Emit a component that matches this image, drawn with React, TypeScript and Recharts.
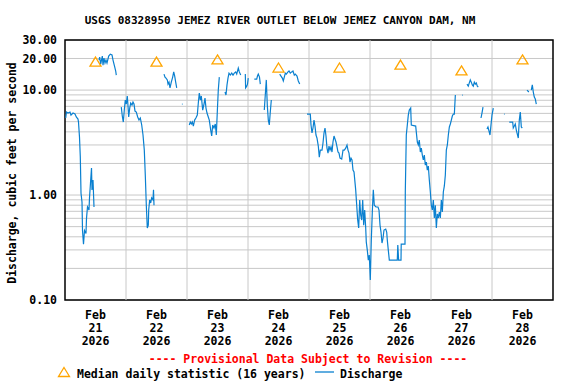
import React from 'react'
import {
  ComposedChart,
  Line,
  XAxis,
  YAxis,
  CartesianGrid,
  ReferenceLine,
  ReferenceArea,
} from 'recharts'

const FONT = '"DejaVu Sans Mono", "Liberation Mono", monospace'

const title = 'USGS 08328950 JEMEZ RIVER OUTLET BELOW JEMEZ CANYON DAM, NM'
const yTitle = 'Discharge, cubic feet per second'
const provisional = '---- Provisional Data Subject to Revision ----'
const medianLabel = 'Median daily statistic (16 years)'
const dischargeLabel = 'Discharge'

const dayLabels = ['21', '22', '23', '24', '25', '26', '27', '28']
const monthLabel = 'Feb'
const yearLabel = '2026'

// median daily statistic, one per day (cfs)
const medianCfs = [18.7, 18.7, 19.6, 16.4, 16.4, 17.5, 15.4, 19.6]

const yTicks = [
  0.1, 0.2, 0.3, 0.4, 0.5, 0.6, 0.7, 0.8, 0.9,
  1, 2, 3, 4, 5, 6, 7, 8, 9,
  10, 20, 30,
]
const yLabelled = [0.1, 1, 10, 20, 30]

// [hour of day, discharge cfs]; null marks a gap in the record
type Row = [number, number | null]

const feb21: Row[] = [
  [0.28, 5.42], [0.59, 6.18], [1.18, 6.04], [1.97, 6.18], [2.36, 5.78], [3.15, 6.04],
  [3.93, 5.91], [4.45, 5.54], [5.11, 5.3], [5.31, 4.96], [5.7, 3.57], [6.02, 2.3],
  [6.3, 1.04], [6.69, 0.86], [6.89, 0.46], [7.28, 0.34], [7.67, 0.46], [8.26, 0.43],
  [8.46, 0.6], [8.85, 0.77], [9.44, 0.72], [9.64, 0.94], [10.03, 1.3], [10.43, 1.81],
  [10.62, 1.12], [11.02, 1.39], [11.41, 0.77], [12.4, null],
  [13.38, 19.3], [13.65, 20.6], [14.05, 17.7], [14.68, 21.1], [14.95, 17.3], [15.34, 20.2],
  [15.74, 18.1], [16.13, 19.3], [16.52, 18.1], [17.19, 21.1], [17.82, 22.0], [18.49, 21.6],
  [18.89, 19.3], [19.55, 16.6], [19.95, 15.2], [20.18, 13.9], [21, null],
  [22.15, 6.89], [22.54, 5.66], [22.94, 4.96], [23.33, 6.45], [23.72, 8.04],
]

const feb22: Row[] = [
  [0.12, 7.36], [0.51, 8.78], [0.79, 7.05], [1.06, 5.54], [1.46, 6.74], [1.85, 7.53],
  [2.36, 7.2], [2.75, 7.69], [3.15, 7.36], [3.54, 6.31], [4.05, 6.18], [4.6, 5.54],
  [5.11, 5.18], [5.63, 5.42], [6.18, 4.65], [6.69, 3.73], [7.2, 2.68], [7.59, 1.55],
  [7.99, 0.8], [8.38, 0.485], [8.77, 0.517], [8.93, 0.72], [9.32, 0.9], [9.72, 0.84],
  [10.11, 0.94], [10.62, 0.9], [10.82, 1.12], [11.02, 0.8], [12, null],
  [14.95, 14.2], [15.35, 13.3], [15.74, 13.0], [16.25, 12.5], [16.53, 11.4], [16.92, 11.9],
  [17.31, 10.5], [17.82, 11.9], [18.37, 13.3], [18.77, 14.9], [19.16, 13.6], [19.55, 11.9],
  [19.95, 10.5], [21, null],
  [22.0, 7.36], [22.25, 7.36], [23, null],
]

const feb23: Row[] = [
  [0.9, 4.65], [1.3, 4.96], [1.7, 4.75], [2.1, 4.96], [2.5, 4.54], [3.0, 5.18],
  [3.5, 5.42], [4.05, 5.78], [4.45, 7.53], [4.84, 9.37], [5.23, 8.04], [5.63, 8.78],
  [6.18, 6.45], [6.69, 7.36], [7.08, 8.4], [7.47, 6.74], [7.87, 6.04], [8.38, 5.54],
  [8.77, 5.18], [9.33, 4.16], [9.72, 3.65], [10.11, 4.65], [10.62, 4.35], [11.13, 4.75],
  [11.53, 3.73], [11.92, 6.18], [12.31, 10.0], [12.71, 13.3], [13.8, null],
  [14.95, 9.58], [15.34, 8.97], [15.74, 11.2], [16.13, 13.0], [16.52, 14.5], [17.04, 13.9],
  [17.59, 14.5], [18.1, 13.9], [18.61, 14.5], [19.16, 14.9], [19.56, 14.2], [20.18, 16.2],
  [20.58, 14.9], [21.13, 13.9], [22, null],
  [22.94, 14.2], [23.06, 10.5], [23.5, 10.9], [23.8, 11.4],
]

const feb24: Row[] = [
  [0.1, 13.0], [1.3, null],
  [2.48, 12.7], [3.42, 12.7], [3.73, 13.6], [4.05, 14.2], [4.52, 13.3], [4.84, 11.4], [5.6, null],
  [6.41, 6.45], [6.8, 8.97], [7.2, 12.5], [7.59, 7.2], [7.99, 5.18], [8.38, 4.65],
  [8.77, 6.18], [9.17, 8.04], [10.8, null],
  [12.47, 14.2], [12.98, 13.6], [13.5, 13.0], [13.89, 12.2], [14.28, 13.3], [14.68, 14.5],
  [15.07, 14.2], [15.74, 14.9], [16.13, 15.2], [16.64, 14.5], [17.2, 14.9], [17.7, 15.2],
  [18.22, 13.9], [18.61, 14.2], [19.28, 13.6], [19.79, 12.2], [20.34, 11.4], [21.5, null],
  [23.21, 5.91],
]

const feb25: Row[] = [
  [0.51, 5.91], [0.79, 4.65], [1.18, 3.9], [1.57, 4.35], [1.97, 5.18], [2.36, 4.54],
  [2.75, 3.73], [3.15, 3.49], [3.66, 2.93], [4.05, 2.3], [4.45, 2.68], [5.12, 2.68],
  [5.51, 3.13], [5.9, 3.9], [6.3, 4.35], [6.69, 3.65], [7.08, 2.8], [7.48, 2.51],
  [7.87, 2.93], [8.26, 2.68], [8.66, 2.87], [9.05, 2.57], [9.44, 3.2], [9.84, 3.65],
  [10.23, 3.42], [10.62, 3.2], [11.02, 2.87], [11.41, 2.57], [11.8, 2.51], [12.2, 2.25],
  [12.87, 2.2], [13.38, 2.68], [13.89, 2.68], [14.44, 2.8], [14.95, 3.0], [15.34, 2.68],
  [15.74, 2.51], [16.13, 2.06], [16.53, 2.25], [16.92, 2.16], [17.31, 1.73], [17.71, 1.66],
  [18.37, 1.12], [18.77, 0.8], [19.16, 0.578], [19.55, 0.485], [19.95, 0.896], [20.34, 0.645],
  [20.73, 0.578], [21.13, 0.896], [21.52, 0.517], [21.91, 0.72], [22.31, 0.485], [22.54, 0.356],
  [22.94, 0.299], [23.33, 0.24], [23.72, 0.268],
]

const feb26: Row[] = [
  [0.12, 0.155], [0.51, 0.372], [0.91, 0.689], [1.3, 1.12], [1.69, 0.8], [2.36, 0.769],
  [3.15, 0.769], [3.54, 0.72], [3.94, 0.517], [4.33, 0.444], [4.72, 0.349], [5.12, 0.388],
  [5.51, 0.464], [6.18, 0.474], [6.57, 0.444], [6.81, 0.372], [7.2, 0.299], [7.6, 0.24],
  [10.74, 0.24], [10.94, 0.334], [11.26, 0.24], [12.2, 0.24], [12.28, 0.341], [13.77, 0.341],
  [13.89, 1.07], [14.28, 3.73], [14.68, 4.65], [15.07, 5.78], [15.46, 6.45], [16.01, 6.74],
  [16.25, 4.65], [17.98, 4.54], [18.22, 3.98], [18.62, 3.2], [19.01, 3.0], [19.4, 3.34],
  [19.8, 2.57], [20.19, 2.8], [20.59, 2.4], [20.98, 2.16], [21.37, 2.4], [21.77, 1.93],
  [22.16, 2.06], [22.55, 1.73], [22.95, 1.89], [23.34, 1.39], [23.74, 1.07],
]

const feb27: Row[] = [
  [0.13, 0.8], [0.52, 0.72], [0.92, 0.896], [1.31, 0.604], [1.7, 0.8], [2.1, 0.485],
  [2.49, 0.66], [2.88, 0.604], [3.28, 0.689], [3.67, 0.604], [4.07, 0.896], [4.46, 0.689],
  [4.85, 1.07], [5.25, 1.22], [5.64, 1.55], [6.03, 2.68], [6.43, 3.0], [6.82, 3.73],
  [7.22, 4.45], [7.61, 4.75], [8.0, 5.18], [8.39, 5.66], [8.79, 5.91], [9.18, 5.91],
  [9.58, 8.97], [10.5, null],
  [12.2, 8.97], [12.45, 8.97], [13.3, null],
  [14.16, 11.4], [14.67, 10.9], [15.07, 11.7], [15.46, 12.5], [15.85, 11.9], [16.25, 11.2],
  [16.64, 10.9], [17.04, 11.9], [17.43, 11.4], [17.82, 11.7], [18.22, 10.9], [18.61, 10.7],
  [19.1, null],
  [19.67, 5.42], [20.06, 6.04], [20.46, 6.89], [21.2, null],
  [22.03, 4.25], [22.42, 4.45], [22.82, 4.07], [23.21, 3.73], [23.6, 4.65],
]

const feb28: Row[] = [
  [0.0, 5.78], [0.51, 6.74], [2.0, null],
  [4.7, 5.91], [4.95, 5.91], [5.8, null],
  [6.8, 4.96], [8.14, 4.96], [8.37, 4.35], [8.77, 4.54], [9.16, 4.75], [9.56, 4.16],
  [9.95, 3.81], [10.34, 3.49], [10.74, 5.18], [11.13, 6.18], [11.53, 4.45], [11.92, 4.35],
  [12.8, null],
  [13.77, 10.0], [14.5, 9.58], [14.9, null],
  [15.46, 10.0], [15.86, 11.2], [16.25, 9.58], [16.64, 8.59], [17.04, 8.22], [17.43, 7.36],
]

const days = [feb21, feb22, feb23, feb24, feb25, feb26, feb27, feb28]

const dischargeData = days.flatMap((rows, d) =>
  rows.map(([h, q]) => ({ t: d * 24 + h, q })),
)
const medianData = medianCfs.map((m, d) => ({ t: d * 24 + 12, m }))
const dayTicks = dayLabels.map((_, i) => i * 24 + 12)
const dayBounds = dayLabels.slice(1).map((_, i) => (i + 1) * 24)

const ORANGE = '#ffa500'
const BLUE = '#0a80d0'

function Triangle(props: any) {
  const { cx, cy } = props
  if (cx == null || cy == null) return null
  return (
    <path
      d={`M${cx},${cy - 4.5} L${cx + 5.5},${cy + 4.5} L${cx - 5.5},${cy + 4.5} Z`}
      fill="none"
      stroke={ORANGE}
      strokeWidth={1.3}
    />
  )
}

function DayTick(props: any) {
  const { x, y, payload } = props
  const i = Math.round((payload.value - 12) / 24)
  return (
    <text
      x={x}
      y={y}
      textAnchor="middle"
      fontFamily={FONT}
      fontSize={11.5}
      fontWeight="bold"
      fill="#000"
    >
      <tspan x={x} dy={19}>{monthLabel}</tspan>
      <tspan x={x} dy={13}>{dayLabels[i]}</tspan>
      <tspan x={x} dy={13}>{yearLabel}</tspan>
    </text>
  )
}

const textStyle: React.CSSProperties = {
  position: 'absolute',
  fontFamily: FONT,
  fontWeight: 'bold',
  fontSize: 11.5,
  whiteSpace: 'nowrap',
  lineHeight: 1,
}

export default function App() {
  return (
    <div style={{ position: 'absolute', left: 0, top: 0, width: 576, height: 384, background: '#fff' }}>
      <ComposedChart
        width={576}
        height={384}
        margin={{ top: 40, right: 23, bottom: 44, left: 0 }}
      >
        <CartesianGrid vertical={false} stroke="#c8c8c8" />
        {dayBounds.map((b) => (
          <ReferenceLine key={b} x={b} stroke="#c8c8c8" />
        ))}
        <XAxis
          dataKey="t"
          type="number"
          domain={[0, 192]}
          ticks={dayTicks}
          interval={0}
          tick={<DayTick />}
          tickLine={false}
          axisLine={false}
          tickSize={0}
          tickMargin={0}
          height={40}
          allowDataOverflow
        />
        <YAxis
          scale="log"
          type="number"
          domain={[0.1, 30]}
          ticks={yTicks}
          interval={0}
          allowDataOverflow
          width={65}
          tickLine={false}
          axisLine={false}
          tickSize={0}
          tickMargin={8}
          tickFormatter={(v: number) => (yLabelled.includes(v) ? v.toFixed(2) : '')}
          tick={{ fill: '#000', fontSize: 11.5, fontFamily: FONT, fontWeight: 'bold' }}
        />
        <Line
          data={dischargeData}
          dataKey="q"
          type="linear"
          stroke={BLUE}
          strokeWidth={1.2}
          dot={false}
          activeDot={false}
          connectNulls={false}
          isAnimationActive={false}
        />
        <Line
          data={medianData}
          dataKey="m"
          stroke="none"
          dot={<Triangle />}
          activeDot={false}
          isAnimationActive={false}
        />
        <ReferenceArea
          x1={0}
          x2={192}
          y1={0.1}
          y2={30}
          fill="none"
          fillOpacity={0}
          stroke="#000"
          strokeWidth={1.5}
          ifOverflow="visible"
        />
      </ComposedChart>

      <div style={{ ...textStyle, fontSize: 11, left: 280, top: 20, transform: 'translate(-50%, -50%)' }}>
        {title}
      </div>
      <div
        style={{
          ...textStyle,
          left: 13,
          top: 173,
          transform: 'translate(-50%, -50%) rotate(-90deg)',
        }}
      >
        {yTitle}
      </div>
      <div style={{ ...textStyle, color: '#ff0000', left: 308, top: 359.5, transform: 'translate(-50%, -50%)' }}>
        {provisional}
      </div>
      <svg style={{ position: 'absolute', left: 57, top: 366 }} width={14} height={12}>
        <path d="M7,1.5 L12.5,10.5 L1.5,10.5 Z" fill="none" stroke={ORANGE} strokeWidth={1.3} />
      </svg>
      <div style={{ ...textStyle, left: 77, top: 374.5, transform: 'translateY(-50%)' }}>
        {medianLabel}
      </div>
      <svg style={{ position: 'absolute', left: 315, top: 370 }} width={20} height={4}>
        <line x1={0} y1={2} x2={19} y2={2} stroke={BLUE} strokeWidth={1.3} />
      </svg>
      <div style={{ ...textStyle, left: 340, top: 374.5, transform: 'translateY(-50%)' }}>
        {dischargeLabel}
      </div>
    </div>
  )
}
